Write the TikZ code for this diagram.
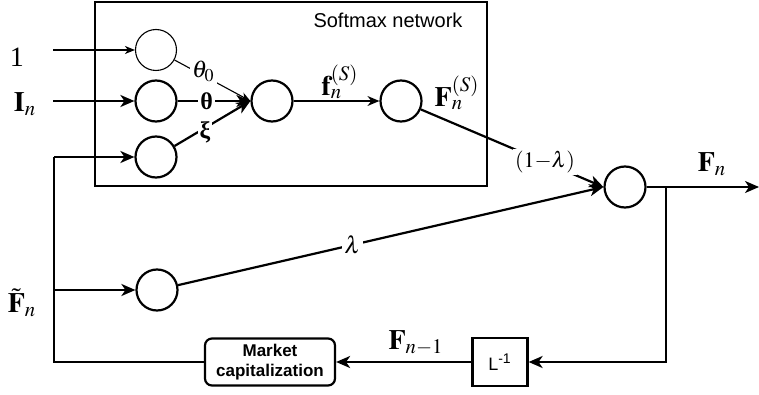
\documentclass[tikz,border=0pt]{standalone}
\usepackage{amsmath,amssymb}
\usepackage{mathptmx}
\usepackage[no-math]{fontspec}
\setmainfont{Liberation Serif}
\setsansfont{Liberation Sans}
\usetikzlibrary{arrows.meta, positioning, calc}

\begin{document}
\begin{tikzpicture}[
    x=0.5pt, y=-0.5pt,
    neuron/.style     = {circle, draw, line width=1.1pt, minimum size=20.5pt, inner sep=0pt},
    thinneuron/.style = {neuron, line width=0.55pt},
    block/.style      = {draw, line width=1.1pt, align=center, inner sep=0pt,
                         font=\sffamily},
    flow/.style       = {-{Stealth[length=7pt,width=6pt,inset=2pt]}, line width=1.1pt},
    thinflow/.style   = {-{Stealth[length=5pt,width=4pt,inset=1.5pt]}, line width=0.55pt},
    wire/.style       = {line width=1.1pt},
    biglbl/.style     = {font=\fontsize{14}{16}\selectfont, inner sep=0pt},
    wlbl/.style       = {font=\fontsize{12}{14}\selectfont, fill=white, inner sep=1pt}
]
\useasboundingbox (0,0) rectangle (759,395);

% Softmax network frame
\draw[line width=0.55pt] (95,2) rectangle (487,186);
\node[font=\sffamily\fontsize{10}{12}\selectfont] (smlab) at (388,20) {Softmax network};

% neurons
\node[thinneuron] (c1) at (156,50)  {};
\node[neuron]     (c2) at (156,101) {};
\node[neuron]     (c3) at (156,157) {};
\node[neuron]     (c4) at (272,101) {};
\node[neuron]     (c5) at (401,101) {};
\node[neuron]     (c6) at (625,187) {};
\node[neuron]     (c7) at (157,290) {};

% blocks in the feedback loop
\node[block, rounded corners=3.5pt, minimum width=65pt, minimum height=23.5pt,
      font=\sffamily\bfseries\fontsize{8.5}{10}\selectfont] (mcap) at (270,362)
    {Market\\capitalization};
\node[block, minimum width=27.5pt, minimum height=24pt,
      font=\sffamily\fontsize{9}{11}\selectfont] (linv) at (500,362)
    {L\textsuperscript{-1}};

% input labels
\node[biglbl] (one)  at (17,57)  {1};
\node[biglbl] (inp)  at (25,104) {$\mathbf{I}_n$};
\node[biglbl] (ftil) at (22,303) {$\tilde{\mathbf{F}}_n$};

\coordinate (in1) at (53,50);
\coordinate (in2) at (53,101);
\coordinate (fbtop) at (54,157);
\coordinate (fbj) at (54,290);
\coordinate (fbbot) at (54,362);
\coordinate (j6) at (666,187);
\coordinate (out) at (759,187);

% inputs into the softmax network
\draw[thinflow] (in1) -- (c1);
\draw[flow] (in2) -- (c2);
\draw[thinflow] (c1) -- node[wlbl, pos=0.38, yshift=2pt] {$\theta_0$} (c4.west);
\draw[flow] (c2) -- node[wlbl, pos=0.4] {\bfseries θ} (c4.west);
\draw[flow] (c3) -- node[wlbl, pos=0.4, yshift=-2pt] {\bfseries ξ} (c4.west);
\draw[-{Stealth[length=6pt,width=5pt,inset=2pt]}, line width=0.7pt] (c4) -- (c5);
\node[biglbl] (fs) at (340,82) {$\mathbf{f}_n^{(S)}$};
\node[biglbl] (Fs) at (457,93) {$\mathbf{F}_n^{(S)}$};

% mixing
\draw[flow] (c5) -- node[wlbl, font=\fontsize{11}{13}\selectfont, pos=0.68] {$(1{-}\lambda)$} (c6.west);
\draw[flow] (c7) -- node[wlbl, pos=0.41] {$\lambda$} (c6.west);

% output and feedback loop
\draw[flow] (c6) -- (out);
\node[biglbl] (Fn) at (712,164) {$\mathbf{F}_n$};
\draw[flow] (j6) |- (linv.east);
\draw[flow] (linv) -- (mcap);
\node[biglbl] (Fn1) at (416,343) {$\mathbf{F}_{n-1}$};
\draw[wire] (mcap.west) -- (fbbot) -- (fbtop);
\draw[flow] (fbtop) -- (c3);
\draw[flow] (fbj) -- (c7);

\end{tikzpicture}
\end{document}
